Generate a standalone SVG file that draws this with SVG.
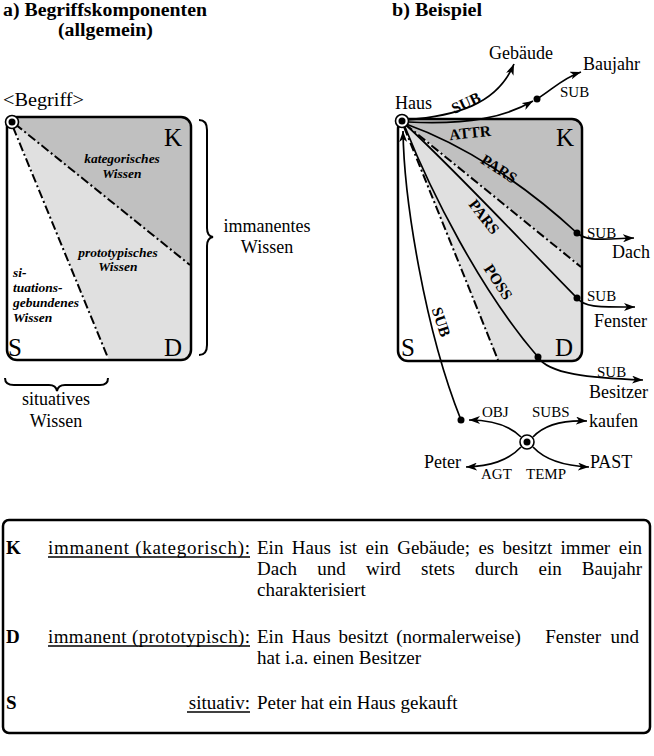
<svg xmlns="http://www.w3.org/2000/svg" width="654" height="756" viewBox="0 0 654 756">
<defs>
<marker id="arr" markerWidth="12" markerHeight="8" refX="11" refY="4" orient="auto" markerUnits="userSpaceOnUse">
<path d="M0,0 L11,4 L0,8 L3,4 z" fill="#000"/>
</marker>
<clipPath id="cl"><rect x="7" y="117" width="184" height="243" rx="10"/></clipPath>
<clipPath id="cr"><rect x="398" y="119" width="184" height="242" rx="10"/></clipPath>
<style>
text{font-family:"Liberation Serif","Times New Roman",serif;fill:#000}
.t{font-size:18px;font-weight:bold}
.l{font-size:18px}
.big{font-size:25px}
.it{font-size:13.5px;font-weight:bold;font-style:italic}
.rel{font-size:15.5px;font-weight:bold}
.sm{font-size:15px}
.tb{font-size:19px}
.tbb{font-size:19px;font-weight:bold}
.edge{fill:none;stroke:#000;stroke-width:1.7}
.dd{fill:none;stroke:#000;stroke-width:2;stroke-dasharray:9 3 2 3}
.box{fill:none;stroke:#000;stroke-width:2.5}
.brace{fill:none;stroke:#000;stroke-width:2}
.dk{fill:#c0c0c0}
.lt{fill:#e0e0e0}
.ul{stroke:#000;stroke-width:1.3}
.ring{fill:#fff;stroke:#000;stroke-width:1.6}
</style>
</defs>
<rect width="654" height="756" fill="#fff"/>

<!-- Left panel -->
<g id="titleA">
<text class="t" x="3" y="16" textLength="204" lengthAdjust="spacingAndGlyphs">a) Begriffskomponenten</text>
<text class="t" x="58" y="36" textLength="95" lengthAdjust="spacingAndGlyphs">(allgemein)</text>
</g>
<g id="begriffBox">
<rect x="7" y="117" width="184" height="243" rx="10" fill="#fff"/>
<g clip-path="url(#cl)">
<polygon class="dk" points="12,122 12,100 200,100 200,273"/>
<polygon class="lt" points="12,122 200,273 200,370 113,370"/>
</g>
<path class="dd" d="M15,124 L190,265"/>
<path class="dd" d="M13,127 L108,358"/>
<rect class="box" x="7" y="117" width="184" height="243" rx="10"/>
<text class="big" x="164" y="146">K</text>
<text class="big" x="8" y="356">S</text>
<text class="big" x="164" y="356">D</text>
<text class="it" x="122" y="163" text-anchor="middle">kategorisches</text>
<text class="it" x="122" y="178" text-anchor="middle">Wissen</text>
<text class="it" x="118" y="257" text-anchor="middle">prototypisches</text>
<text class="it" x="118" y="271" text-anchor="middle">Wissen</text>
<text class="it" x="13" y="277">si-</text>
<text class="it" x="13" y="292">tuations-</text>
<text class="it" x="13" y="307">gebundenes</text>
<text class="it" x="13" y="322">Wissen</text>
</g>
<g id="begriffNode">
<text class="l" x="3" y="106" font-size="17" textLength="81" lengthAdjust="spacingAndGlyphs">&lt;Begriff&gt;</text>
<circle class="ring" cx="12" cy="122" r="6.5"/>
<circle cx="12" cy="122" r="3.5" fill="#000"/>
</g>
<g id="immanentBrace">
<path class="brace" d="M199,120 Q207,120 207,130 L207,228 Q207,236 213,237 Q207,238 207,246 L207,345 Q207,355 199,355"/>
<text class="l" x="267" y="232" text-anchor="middle">immanentes</text>
<text class="l" x="267" y="253" text-anchor="middle">Wissen</text>
</g>
<g id="situativBrace">
<path class="brace" d="M5,378 Q5,385 14,385 L49,385 Q56,385 57,391 Q58,385 65,385 L100,385 Q108,385 108,378"/>
<text class="l" x="56" y="405" text-anchor="middle">situatives</text>
<text class="l" x="56" y="427" text-anchor="middle">Wissen</text>
</g>

<!-- Right panel -->
<g id="titleB">
<text class="t" x="392" y="16" textLength="90" lengthAdjust="spacingAndGlyphs">b) Beispiel</text>
</g>
<g id="hausBox">
<rect x="398" y="119" width="184" height="242" rx="10" fill="#fff"/>
<g clip-path="url(#cr)">
<polygon class="dk" points="402,121 402,100 592,100 592,275"/>
<polygon class="lt" points="402,121 592,275 592,371 502,371"/>
</g>
<path class="dd" d="M405,124 L581,267"/>
<path class="dd" d="M404,127 L498,360"/>
<rect class="box" x="398" y="119" width="184" height="242" rx="10"/>
<text class="big" x="556" y="146">K</text>
<text class="big" x="401" y="356">S</text>
<text class="big" x="555" y="356">D</text>
</g>

<g id="connectors">
<path class="edge" d="M406,120 C455,116 497,105 514,64" marker-end="url(#arr)"/>
<path class="edge" d="M408,122 C470,125 505,117 533,101" marker-end="url(#arr)"/>
<path class="edge" d="M537,99 C553,89 563,78 581,72" marker-end="url(#arr)"/>
<path class="edge" d="M406,124 C465,145 525,185 577,233"/>
<path class="edge" d="M406,125 C455,170 520,240 577,298"/>
<path class="edge" d="M405,127 C430,190 480,290 538,357"/>
<path class="edge" d="M461,420 C425,330 404,200 403,131" marker-end="url(#arr)"/>
<path class="edge" d="M577,233 C588,242 600,239 634,238" marker-end="url(#arr)"/>
<path class="edge" d="M577,298 C585,308 600,307 635,307" marker-end="url(#arr)"/>
<path class="edge" d="M538,357 C548,374 590,378 643,380" marker-end="url(#arr)"/>
<path class="edge" d="M521,437 C508,424 490,420 469,420" marker-end="url(#arr)"/>
<path class="edge" d="M533,437 C545,424 563,420 587,421" marker-end="url(#arr)"/>
<path class="edge" d="M521,447 C508,461 490,466 466,467" marker-end="url(#arr)"/>
<path class="edge" d="M533,447 C546,461 566,466 589,467" marker-end="url(#arr)"/>
<circle cx="537" cy="99" r="3.5"/>
<circle cx="577" cy="233" r="3.5"/>
<circle cx="577" cy="298" r="3.5"/>
<circle cx="538" cy="357" r="3.5"/>
<circle cx="461" cy="420" r="3.5"/>
<text class="rel" transform="translate(466,103) rotate(-25)" x="0" y="5" text-anchor="middle">SUB</text>
<text class="rel" transform="translate(470,133) rotate(-6)" x="0" y="5" text-anchor="middle">ATTR</text>
<text class="rel" transform="translate(499,169) rotate(33)" x="0" y="5" text-anchor="middle">PARS</text>
<text class="rel" transform="translate(484,217) rotate(52)" x="0" y="5" text-anchor="middle">PARS</text>
<text class="rel" transform="translate(498,282) rotate(57)" x="0" y="5" text-anchor="middle">POSS</text>
<text class="rel" transform="translate(441,322) rotate(72)" x="0" y="5" text-anchor="middle">SUB</text>
<text class="sm" x="560" y="97">SUB</text>
<text class="sm" x="587" y="238">SUB</text>
<text class="sm" x="587" y="301">SUB</text>
<text class="sm" x="597" y="377">SUB</text>
<text class="sm" x="482" y="417">OBJ</text>
<text class="sm" x="532" y="417">SUBS</text>
<text class="sm" x="481" y="479">AGT</text>
<text class="sm" x="526" y="479">TEMP</text>
</g>

<g id="haus">
<text class="l" x="395" y="109">Haus</text>
<circle class="ring" cx="402" cy="121" r="6.5"/>
<circle cx="402" cy="121" r="3.5"/>
</g>
<g id="gebaeude"><text class="l" x="489" y="59">Gebäude</text></g>
<g id="baujahr"><text class="l" x="583" y="70">Baujahr</text></g>
<g id="dach"><text class="l" x="612" y="258">Dach</text></g>
<g id="fenster"><text class="l" x="594" y="327">Fenster</text></g>
<g id="besitzer"><text class="l" x="589" y="398">Besitzer</text></g>
<g id="kaufen"><text class="l" x="589" y="427">kaufen</text></g>
<g id="peter"><text class="l" x="424" y="468">Peter</text></g>
<g id="past"><text class="l" x="590" y="468">PAST</text></g>
<g id="situation">
<circle class="ring" cx="527" cy="442" r="7"/>
<circle cx="527" cy="442" r="3.5"/>
</g>

<!-- Table -->
<g id="legend">
<rect x="3" y="520" width="647" height="213" rx="6" fill="none" stroke="#000" stroke-width="2.5"/>
<text class="tbb" x="6" y="554">K</text>
<text class="tb" x="48" y="554" textLength="202" lengthAdjust="spacing">immanent (kategorisch):</text>
<line class="ul" x1="48" y1="557" x2="250" y2="557"/>
<text class="tb" y="554"><tspan x="257">Ein</tspan><tspan x="291.8">Haus</tspan><tspan x="339.2">ist</tspan><tspan x="365.6">ein</tspan><tspan x="397.2">Gebäude;</tspan><tspan x="478.4">es</tspan><tspan x="502.6">besitzt</tspan><tspan x="560.6">immer</tspan><tspan x="642" text-anchor="end">ein</tspan></text>
<text class="tb" y="575"><tspan x="257">Dach</tspan><tspan x="317.3">und</tspan><tspan x="366">wird</tspan><tspan x="421">stets</tspan><tspan x="475">durch</tspan><tspan x="538.5">ein</tspan><tspan x="642" text-anchor="end">Baujahr</tspan></text>
<text class="tb" x="257" y="596">charakterisiert</text>

<text class="tbb" x="6" y="643">D</text>
<text class="tb" x="48" y="643" textLength="202" lengthAdjust="spacing">immanent (prototypisch):</text>
<line class="ul" x1="48" y1="646" x2="250" y2="646"/>
<text class="tb" y="643"><tspan x="257">Ein</tspan><tspan x="291.5">Haus</tspan><tspan x="338.6">besitzt</tspan><tspan x="396.3">(normalerweise)</tspan><tspan x="545.2">Fenster</tspan><tspan x="639" text-anchor="end">und</tspan></text>
<text class="tb" x="257" y="664">hat i.a. einen Besitzer</text>

<text class="tbb" x="6" y="709">S</text>
<text class="tb" x="250" y="709" text-anchor="end">situativ:</text>
<line class="ul" x1="187" y1="712" x2="250" y2="712"/>
<text class="tb" x="257" y="709">Peter hat ein Haus gekauft</text>
</g>
</svg>
